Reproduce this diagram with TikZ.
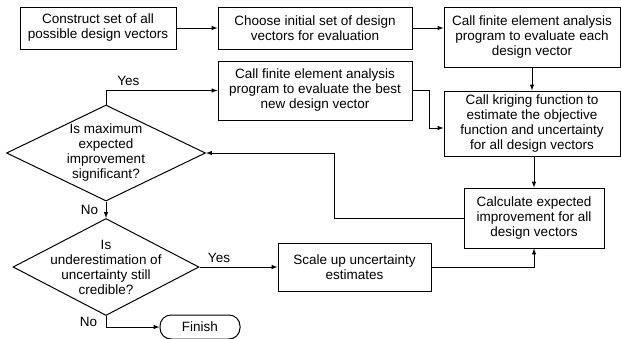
\documentclass[tikz,border=0pt]{standalone}
\usepackage{fontspec}
\setmainfont{Liberation Sans}
\usepackage{tikz}
\usetikzlibrary{shapes.geometric}

\begin{document}
\begin{tikzpicture}[x=1pt,y=-1pt,>=latex,
    font=\fontsize{13.5}{15}\selectfont,
    box/.style={draw,line width=1pt,align=center,inner sep=1pt},
    decision/.style={draw,line width=1pt,diamond,inner sep=0pt},
    term/.style={draw,line width=1pt,rounded corners=11pt,inner sep=1pt},
    arr/.style={->,line width=1pt}]
    \useasboundingbox (0,0) rectangle (621,338);

    % Process boxes
    \node[box,minimum width=156,minimum height=42] (construct) at (98,28)
        {Construct set of all\\possible design vectors};
    \node[box,minimum width=194,minimum height=42] (choose) at (315,28)
        {Choose initial set of design\\vectors for evaluation};
    \node[box,minimum width=176,minimum height=60] (feaeach) at (532,37)
        {Call finite element analysis\\program to evaluate each\\design vector};
    \node[box,minimum width=194,minimum height=59] (feabest) at (315,90.5)
        {Call finite element analysis\\program to evaluate the best\\new design vector};
    \node[box,minimum width=176,minimum height=65] (kriging) at (532,123.5)
        {Call kriging function to\\estimate the objective\\function and uncertainty\\for all design vectors};
    \node[box,minimum width=140,minimum height=60] (calcei) at (534,218)
        {Calculate expected\\improvement for all\\design vectors};
    \node[box,minimum width=153,minimum height=48] (scaleup) at (354.5,267)
        {Scale up uncertainty\\estimates};

    % Decisions
    \node[decision,minimum width=199,minimum height=96,
        label={[align=center]center:Is maximum\\expected\\improvement\\significant?}]
        (dmax) at (106,153) {};
    \node[decision,minimum width=186,minimum height=97,
        label={[align=center]center:Is\\underestimation of\\uncertainty still\\credible?}]
        (dunder) at (106,267) {};

    % End
    \node[term,minimum width=80,minimum height=24] (finish) at (200,327) {Finish};

    % Arrows
    \draw[arr] (construct.east) -- (choose.west);
    \draw[arr] (choose.east) -- (choose.east -| feaeach.west);
    \draw[arr] (feaeach.south) -- (kriging.north);
    \draw[arr] (feabest.east) -- ++(17,0) |- ([yshift=-4.5pt]kriging.west);
    \draw[arr] (calcei.north |- kriging.south) -- (calcei.north);
    \draw[arr] (calcei.west) -- ++(-129,0) |- (dmax.east);
    \draw[arr] (dmax.north) |- (feabest.west)
        node[pos=0.6,above=1pt] {Yes};
    \draw[arr] (dmax.south) -- (dunder.north)
        node[midway,left=4pt] {No};
    \draw[arr] (dunder.east) -- (scaleup.west)
        node[pos=0.25,above=1pt] {Yes};
    \draw[arr] (scaleup.east) -| (calcei.south);
    \draw[arr] (dunder.south) |- (finish.west)
        node[pos=0.25,left=5pt] {No};
\end{tikzpicture}
\end{document}
